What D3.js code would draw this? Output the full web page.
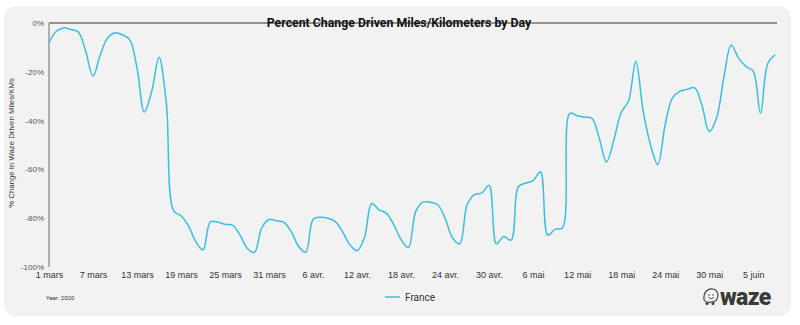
<!DOCTYPE html>
<html><head><meta charset="utf-8">
<script src="https://cdn.jsdelivr.net/npm/d3@7"></script>
<style>body{margin:0;background:#fff;}svg{display:block;font-family:Roboto,"Noto Sans",sans-serif;}</style>
</head><body>
<svg id="chart" width="800" height="325"></svg>
<script>
const startDate = "2020-03-01";
const seriesName = "France";
const values = [
 -8,-3.4,-2,-2.7,-3.7,-11.6,-21.8,-13,-6.1,-4,
 -4.8,-6.8,-18.4,-36.5,-28,-14,-33,-77,-79,-83,
 -89.5,-93,-81.5,-81.6,-82.5,-82.8,-86.7,-92.2,-94,-84,
 -80.5,-81,-81.6,-85.4,-91.4,-94,-80.5,-79.6,-80,-81.3,
 -85.4,-90.8,-93.3,-88,-74,-76.6,-78,-82.6,-88.8,-92,
 -77.2,-73.4,-73.5,-74.5,-80,-88,-90.5,-74.5,-70.3,-69.7,
 -66.5,-90.5,-87.5,-89,-67,-65.6,-64.6,-61,-87,-84.5,
 -84,-37,-38,-38.6,-39,-47,-57,-48,-36.7,-32,
 -15.7,-36,-49.9,-58,-41.7,-30.7,-28,-27.2,-26.5,-33.5,
 -44.5,-39,-22.5,-9,-14.3,-17.8,-19.7,-37,-16.5,-13
];
const yTicks = [0,-20,-40,-60,-80,-100];
const xTickLabels = ["1 mars","7 mars","13 mars","19 mars","25 mars","31 mars","6 avr.","12 avr.","18 avr.","24 avr.","30 avr.","6 mai","12 mai","18 mai","24 mai","30 mai","5 juin"];
const titleText = "Percent Change Driven Miles/Kilometers by Day";
const yTitle = "% Change In Waze Driven Miles/KMs";
const yearText = "Year: 2020";

const t0 = d3.timeParse("%Y-%m-%d")(startDate);
const data = values.map((v,i)=>({date:d3.timeDay.offset(t0,i), v}));
const tickDates = xTickLabels.map((l,i)=>d3.timeDay.offset(t0,i*6));

const svg = d3.select("#chart");
svg.append("rect").attr("x",4).attr("y",6).attr("width",787).attr("height",310).attr("rx",12).attr("fill","#f2f2f2");

const pLeft=49, pRight=777, pTop=23, pBottom=267;
const x = d3.scaleTime().domain([t0, d3.timeDay.offset(t0, 99)]).range([pLeft, pLeft+99*7.335]);
const y = d3.scaleLinear().domain([-100,0]).range([pBottom, pTop]);

// 0% line
svg.append("line").attr("x1",pLeft).attr("x2",pRight).attr("y1",y(0)).attr("y2",y(0)).attr("stroke","#333").attr("stroke-width",1);
// y axis line
svg.append("line").attr("x1",pLeft).attr("x2",pLeft).attr("y1",pTop).attr("y2",pBottom).attr("stroke","#999").attr("stroke-width",1.5);

const yAxis = d3.axisLeft(y).tickValues(yTicks).tickSize(0).tickPadding(5).tickFormat(d=>d+"%");
const gy = svg.append("g").attr("transform",`translate(${pLeft},0)`).call(yAxis);
gy.select(".domain").remove();
gy.selectAll("text").attr("font-size",8).attr("fill","#555").attr("font-family","'Liberation Sans', Arial, sans-serif");

const xAxis = d3.axisBottom(x).tickValues(tickDates).tickSize(0).tickPadding(4).tickFormat((d,i)=>xTickLabels[i]);
const gx = svg.append("g").attr("transform",`translate(0,${pBottom+1})`).call(xAxis);
gx.select(".domain").remove();
gx.selectAll("text").attr("font-size",9).attr("fill","#333").attr("font-family","'Liberation Sans', Arial, sans-serif");

const line = d3.line().x(d=>x(d.date)).y(d=>y(d.v)).curve(d3.curveCatmullRom.alpha(0.5));
svg.append("path").datum(data).attr("d",line).attr("fill","none").attr("stroke","#38bfe4").attr("stroke-width",1.5);

svg.append("text").attr("x",399).attr("y",27).attr("text-anchor","middle").attr("font-size",12.3).attr("font-weight","bold").attr("fill","#111").text(titleText);

svg.append("text").attr("transform","translate(14,143) rotate(-90)").attr("text-anchor","middle").attr("font-size",7.8).attr("fill","#333").attr("font-family","'Liberation Sans', Arial, sans-serif").text(yTitle);

svg.append("text").attr("x",46).attr("y",300).attr("font-size",6).attr("fill","#333").text(yearText);

// legend
svg.append("line").attr("x1",385).attr("x2",400).attr("y1",297).attr("y2",297).attr("stroke","#38bfe4").attr("stroke-width",1.5);
svg.append("text").attr("x",405).attr("y",301).attr("font-size",10).attr("fill","#333").text(seriesName);

// waze logo
const logo = svg.append("g").attr("transform","translate(710,297)");
logo.append("path").attr("d","M-6,3 C-7,-6 -1,-9 3,-8 C8,-7 9,-2 7,2 C6,4 4,5 1,5 C-2,6 -4,6 -6,3 Z").attr("fill","none").attr("stroke","#444").attr("stroke-width",1.2);
logo.append("circle").attr("cx",-1).attr("cy",-2).attr("r",0.8).attr("fill","#444");
logo.append("circle").attr("cx",3).attr("cy",-2).attr("r",0.8).attr("fill","#444");
logo.append("path").attr("d","M-1.5,0.5 Q1,3 4,0.5").attr("fill","none").attr("stroke","#444").attr("stroke-width",0.9);
logo.append("circle").attr("cx",-3).attr("cy",6.5).attr("r",1.6).attr("fill","#444");
logo.append("circle").attr("cx",3).attr("cy",6.5).attr("r",1.6).attr("fill","#444");
svg.append("text").attr("x",720).attr("y",305).attr("font-size",23).attr("font-weight","900").attr("fill","#3a3a3a").attr("font-family","Roboto, sans-serif").attr("letter-spacing","-0.6").text("waze");
</script>
</body></html>
